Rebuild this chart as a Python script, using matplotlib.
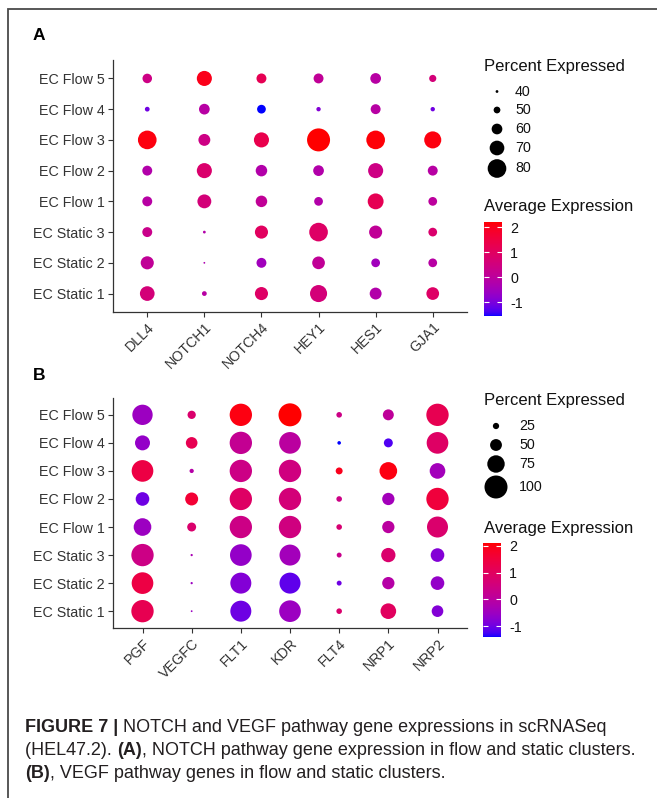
import numpy as np
import matplotlib
matplotlib.use("Agg")
import matplotlib.pyplot as plt
from matplotlib.colors import ListedColormap, Normalize
from matplotlib.cm import ScalarMappable

plt.rcParams['font.family'] = ['Liberation Sans', 'DejaVu Sans']
plt.rcParams['axes.unicode_minus'] = False

# clusters listed bottom -> top
clusters = ["EC Static 1", "EC Static 2", "EC Static 3", "EC Flow 1",
            "EC Flow 2", "EC Flow 3", "EC Flow 4", "EC Flow 5"]

notch_genes = ["DLL4", "NOTCH1", "NOTCH4", "HEY1", "HES1", "GJA1"]
notch_pct = [
    [70, 45, 66, 76, 63, 65],
    [66, 37.5, 58, 65, 55, 55],
    [58, 40, 66, 80, 66, 55],
    [58, 68, 62, 55, 73, 55],
    [58, 71, 62, 60, 71, 58],
    [80, 63, 71, 91, 80, 76],
    [45, 60, 55, 44, 58, 44],
    [57, 71, 58, 58, 60, 51],
]
notch_avg = [
    [0.6, -0.1, 0.9, 0.6, -0.2, 0.9],
    [0.1, -0.3, -0.5, 0.1, -0.5, -0.1],
    [0.3, -0.2, 1.0, 0.9, 0.1, 0.8],
    [-0.1, 0.6, 0.1, -0.2, 1.2, 0.0],
    [-0.2, 0.8, -0.2, -0.2, 0.4, -0.1],
    [2.1, 0.4, 1.3, 2.2, 2.15, 2.1],
    [-1.1, -0.1, -1.55, -0.9, -0.1, -1.1],
    [0.4, 2.0, 1.2, 0.1, -0.1, 0.6],
]
notch_size_keys = [40, 50, 60, 70, 80]

vegf_genes = ["PGF", "VEGFC", "FLT1", "KDR", "FLT4", "NRP1", "NRP2"]
vegf_pct = [
    [97, 5, 91, 94, 22, 67, 49],
    [94, 7, 91, 91, 19, 52, 58],
    [97, 7, 94, 91, 19, 61, 58],
    [76, 37, 97, 97, 22, 52, 91],
    [58, 55, 97, 97, 22, 52, 97],
    [94, 16, 97, 97, 28, 76, 67],
    [64, 49, 97, 94, 13, 37, 94],
    [88, 34, 97, 100, 22, 46, 97],
]
vegf_avg = [
    [1.2, -0.5, -1.0, -0.5, 0.8, 1.0, -0.8],
    [1.4, -0.5, -0.8, -1.1, -1.0, -0.1, -0.6],
    [0.4, -0.3, -0.6, -0.4, 0.3, 0.8, -0.8],
    [-0.5, 0.8, 0.4, 0.5, 0.7, 0.0, 0.8],
    [-1.0, 1.6, 0.9, 0.6, 0.4, -0.4, 1.5],
    [1.4, -0.1, 0.4, 0.5, 1.9, 2.0, -0.4],
    [-0.6, 1.2, 0.2, 0.0, -1.4, -1.2, 0.9],
    [-0.5, 0.8, 2.0, 2.1, 0.4, 0.1, 1.2],
]
vegf_size_keys = [25, 50, 75, 100]
avg_ticks = [-1, 0, 1, 2]


# blue -> red gradient interpolated in CIE Lab
M = np.array([[0.4124, 0.3576, 0.1805],
              [0.2126, 0.7152, 0.0722],
              [0.0193, 0.1192, 0.9505]])
WHITE = np.array([0.95047, 1.0, 1.08883])


def rgb_to_lab(rgb):
    rgb = np.asarray(rgb, float)
    lin = np.where(rgb <= 0.04045, rgb / 12.92, ((rgb + 0.055) / 1.055) ** 2.4)
    xyz = lin @ M.T / WHITE
    f = np.where(xyz > 216 / 24389, np.cbrt(xyz), (24389 / 27 * xyz + 16) / 116)
    return np.array([116 * f[1] - 16, 500 * (f[0] - f[1]), 200 * (f[1] - f[2])])


def lab_to_rgb(lab):
    fy = (lab[:, 0] + 16) / 116
    f = np.stack([fy + lab[:, 1] / 500, fy, fy - lab[:, 2] / 200], -1)
    xyz = np.where(f ** 3 > 216 / 24389, f ** 3, (116 * f - 16) / (24389 / 27)) * WHITE
    lin = np.clip(xyz @ np.linalg.inv(M).T, 0, 1)
    return np.clip(np.where(lin <= 0.0031308, 12.92 * lin, 1.055 * lin ** (1 / 2.4) - 0.055), 0, 1)


t = np.linspace(0, 1, 256)[:, None]
cmap = ListedColormap(lab_to_rgb((1 - t) * rgb_to_lab([0, 0, 1]) + t * rgb_to_lab([1, 0, 0])))

W, H = 657, 798
fig = plt.figure(figsize=(W / 100, H / 100), dpi=100)

# overlay in pixel units for the frame, legends and caption
ov = fig.add_axes([0, 0, 1, 1])
ov.set_xlim(0, W)
ov.set_ylim(H, 0)
ov.axis("off")


def px_box(x0, y0, x1, y1):
    return [x0 / W, 1 - y1 / H, (x1 - x0) / W, (y1 - y0) / H]


DOT_MIN, DOT_MAX = 1.8, 23.0  # diameters in px


def dot_size(pct, lo, hi):
    d = DOT_MIN + (DOT_MAX - DOT_MIN) * (np.asarray(pct, float) - lo) / (hi - lo)
    return (d * 0.72) ** 2


def dot_panel(box, genes, pct, avg):
    ax = fig.add_axes(px_box(*box))
    pct = np.array(pct, float)
    avg = np.array(avg, float)
    lo, hi = pct.min(), pct.max()
    norm = Normalize(avg.min(), avg.max())
    gx, cy = np.meshgrid(np.arange(1, len(genes) + 1), np.arange(1, len(clusters) + 1))
    ax.scatter(gx.ravel(), cy.ravel(), s=dot_size(pct.ravel(), lo, hi),
               c=avg.ravel(), cmap=cmap, norm=norm, linewidths=0)
    ax.set_xlim(0.4, len(genes) + 0.6)
    ax.set_ylim(0.4, len(clusters) + 0.6)
    ax.set_xticks(np.arange(1, len(genes) + 1))
    ax.set_xticklabels(genes, rotation=45, ha="right", va="top", rotation_mode="anchor")
    ax.set_yticks(np.arange(1, len(clusters) + 1))
    ax.set_yticklabels(clusters)
    for side in ["top", "right"]:
        ax.spines[side].set_visible(False)
    for side in ["left", "bottom"]:
        ax.spines[side].set_color("#333333")
        ax.spines[side].set_linewidth(0.9)
    ax.tick_params(length=3.5, width=0.8, color="#333333", labelcolor="#333333",
                   labelsize=10.3, pad=2.5)
    return lo, hi, norm


def legend_block(top, keys, key_ys, key_x, label_x, lo, hi, norm, cb_top, cb_x):
    ov.text(484, top, "Percent Expressed", fontsize=12, va="center", color="#111111")
    ov.scatter([key_x] * len(keys), key_ys, s=dot_size(keys, lo, hi), color="black",
               linewidths=0)
    for k, y in zip(keys, key_ys):
        ov.text(label_x, y, str(k), fontsize=10.3, va="center", color="#111111")
    ov.text(484, cb_top - 15, "Average Expression", fontsize=12, va="center",
            color="#111111")
    cax = fig.add_axes(px_box(cb_x, cb_top, cb_x + 18, cb_top + 94))
    cb = fig.colorbar(ScalarMappable(norm=norm, cmap=cmap), cax=cax)
    cb.outline.set_visible(False)
    cb.set_ticks(avg_ticks)
    cax.tick_params(direction="in", color="white", length=3.5, width=0.8,
                    left=True, right=True, labelsize=10.3, pad=6, labelcolor="#111111")


lo, hi, norm = dot_panel((113, 60, 467, 312), notch_genes, notch_pct, notch_avg)
legend_block(66, notch_size_keys, [91.5, 110, 129, 148, 168.5], 497, 515, lo, hi, norm, 222, 484)

lo, hi, norm = dot_panel((113, 398, 467, 628), vegf_genes, vegf_pct, vegf_avg)
legend_block(401, vegf_size_keys, [426, 445, 464, 487], 496, 519, lo, hi, norm, 543, 483)

ov.text(33, 36, "A", fontsize=12.5, fontweight="bold", va="center")
ov.text(33, 375, "B", fontsize=12.5, fontweight="bold", va="center")

# frame around the figure
ov.plot([8, 8, W], [H, 9, 9], color="#4a4a4a", linewidth=1.3, solid_joinstyle="miter")

# caption with bold run-ins
cap = dict(fontsize=13, color="#231f20", va="bottom")
lines = [
    [("FIGURE 7 | ", "bold"), ("NOTCH and VEGF pathway gene expressions in scRNASeq", "normal")],
    [("(HEL47.2). ", "normal"), ("(A)", "bold"),
     (", NOTCH pathway gene expression in flow and static clusters.", "normal")],
    [("(B)", "bold"), (", VEGF pathway genes in flow and static clusters.", "normal")],
]
for y, parts in zip([736, 759, 782], lines):
    prev = None
    for txt, weight in parts:
        if prev is None:
            prev = ov.text(25, y, txt, fontweight=weight, **cap)
        else:
            prev = ov.annotate(txt, xy=(1, 0), xycoords=prev, fontweight=weight, **cap)

fig.savefig("out.png", dpi=100)
